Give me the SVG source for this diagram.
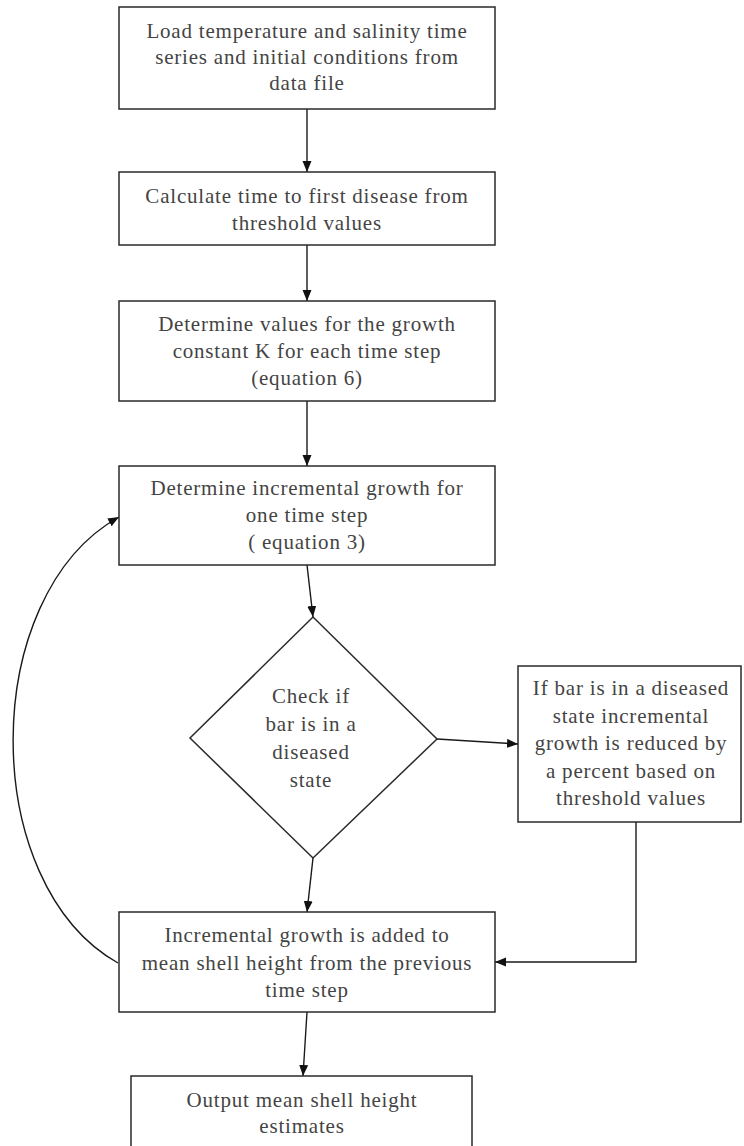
<svg xmlns="http://www.w3.org/2000/svg" width="744" height="1146" viewBox="0 0 744 1146">
<style>
.box{fill:#fff;stroke:#2a2a2a;stroke-width:1.5}
.t{font-family:"Liberation Serif","Times New Roman",serif;font-size:21px;fill:#444;text-anchor:middle;letter-spacing:0.8px}
.c{fill:none;stroke:#1a1a1a;stroke-width:1.4}
</style>
<defs>
<marker id="ah" markerUnits="userSpaceOnUse" markerWidth="12" markerHeight="12" viewBox="0 0 12 12" refX="11" refY="6" orient="auto">
<path d="M0,1.5 L11,6 L0,10.5 Z" fill="#111"/>
</marker>
</defs>
<rect width="744" height="1146" fill="#fff"/>
<g id="connectors">
<line class="c" x1="307" y1="109" x2="307" y2="172" marker-end="url(#ah)"/>
<line class="c" x1="307" y1="245" x2="307" y2="301" marker-end="url(#ah)"/>
<line class="c" x1="307" y1="401" x2="307" y2="466" marker-end="url(#ah)"/>
<line class="c" x1="307" y1="565" x2="313" y2="617" marker-end="url(#ah)"/>
<line class="c" x1="437" y1="739" x2="518" y2="744" marker-end="url(#ah)"/>
<line class="c" x1="313" y1="858" x2="307" y2="912" marker-end="url(#ah)"/>
<polyline class="c" points="636,822 636,962 495,962" marker-end="url(#ah)"/>
<path class="c" d="M118,963 C-22,884 -22,596 119,517" marker-end="url(#ah)"/>
<line class="c" x1="307" y1="1012" x2="303" y2="1076" marker-end="url(#ah)"/>
</g>
<g id="n1">
<rect class="box" x="119" y="7" width="376" height="102"/>
<text class="t" x="307" y="38">Load temperature and salinity time</text>
<text class="t" x="307" y="64">series and initial conditions from</text>
<text class="t" x="307" y="90">data file</text>
</g>
<g id="n2">
<rect class="box" x="119" y="172" width="376" height="73"/>
<text class="t" x="307" y="203">Calculate time to first disease from</text>
<text class="t" x="307" y="230">threshold values</text>
</g>
<g id="n3">
<rect class="box" x="119" y="301" width="376" height="100"/>
<text class="t" x="307" y="331">Determine values for the growth</text>
<text class="t" x="307" y="358">constant K for each time step</text>
<text class="t" x="307" y="385">(equation 6)</text>
</g>
<g id="n4">
<rect class="box" x="119" y="466" width="376" height="99"/>
<text class="t" x="307" y="495">Determine incremental growth for</text>
<text class="t" x="307" y="522">one time step</text>
<text class="t" x="307" y="549">( equation 3)</text>
</g>
<g id="n5">
<polygon class="box" points="313,617 437,739 313,858 190,738"/>
<text class="t" x="311" y="703">Check if</text>
<text class="t" x="311" y="731">bar is in a</text>
<text class="t" x="311" y="759">diseased</text>
<text class="t" x="311" y="787">state</text>
</g>
<g id="n6">
<rect class="box" x="518" y="666" width="223" height="156"/>
<text class="t" x="631" y="695">If bar is in a diseased</text>
<text class="t" x="631" y="723">state incremental</text>
<text class="t" x="631" y="750">growth is reduced by</text>
<text class="t" x="631" y="778">a percent based on</text>
<text class="t" x="631" y="805">threshold values</text>
</g>
<g id="n7">
<rect class="box" x="119" y="912" width="376" height="100"/>
<text class="t" x="307" y="942">Incremental growth is added to</text>
<text class="t" x="307" y="970">mean shell height  from the previous</text>
<text class="t" x="307" y="997">time step</text>
</g>
<g id="n8">
<rect class="box" x="131" y="1076" width="341" height="80"/>
<text class="t" x="302" y="1107">Output mean shell height</text>
<text class="t" x="302" y="1133">estimates</text>
</g>
</svg>
